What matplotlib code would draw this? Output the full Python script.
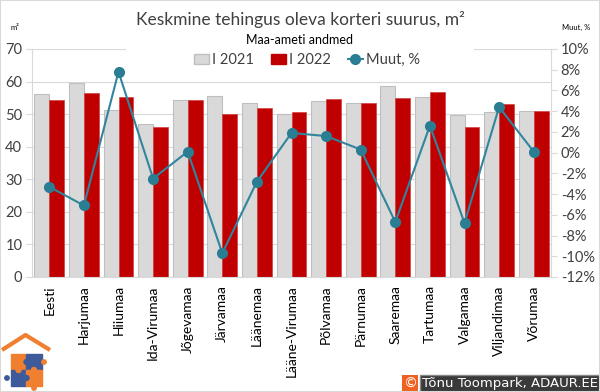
import matplotlib
matplotlib.use("Agg")
import matplotlib.pyplot as plt
import numpy as np
from matplotlib.patches import Patch, Rectangle
from matplotlib.lines import Line2D
from matplotlib.ticker import FuncFormatter

plt.rcParams['font.family'] = ['Lato', 'DejaVu Sans']

# Data
regions = ["Eesti", "Harjumaa", "Hiiumaa", "Ida-Virumaa", "Jõgevamaa", "Järvamaa",
           "Läänemaa", "Lääne-Virumaa", "Põlvamaa", "Pärnumaa", "Saaremaa",
           "Tartumaa", "Valgamaa", "Viljandimaa", "Võrumaa"]
size_2021 = [56.2, 59.6, 51.3, 47.1, 54.4, 55.6, 53.4, 50.0, 53.9, 53.5, 58.7, 55.4, 49.6, 50.7, 51.0]
size_2022 = [54.4, 56.6, 55.2, 46.0, 54.4, 50.1, 51.8, 50.8, 54.5, 53.5, 55.0, 56.7, 46.2, 53.0, 51.0]
change_pct = [-3.3, -5.1, 7.8, -2.5, 0.1, -9.7, -2.8, 1.9, 1.6, 0.3, -6.7, 2.6, -6.8, 4.4, 0.1]

GRAY = "#d9d9d9"
RED = "#c00000"
TEAL = "#31859c"
TXT = "#404040"

fig = plt.figure(figsize=(6.0, 3.92), dpi=100)
ax = fig.add_axes([32 / 600, 1 - 277 / 392, (551 - 32) / 600, (277 - 49) / 392])
x = np.arange(len(regions))
w = 0.43

# Bars
ax.bar(x, size_2021, width=-w, align="edge", color=GRAY, edgecolor="#bfbfbf", linewidth=0.8, zorder=2)
ax.bar(x, size_2022, width=w, align="edge", color=RED, edgecolor="#d04040", linewidth=0.5, zorder=2)
ax.set_xlim(-0.5, len(regions) - 0.5)
ax.set_ylim(0, 70)
ax.set_yticks(range(0, 71, 10))
ax.yaxis.grid(True, color=GRAY, linewidth=0.8)
ax.set_axisbelow(True)
ax.set_xticks(x)
ax.set_xticklabels(regions, rotation=90, fontsize=10, color="black")
ax.tick_params(axis="x", length=0, pad=6)
ax.tick_params(axis="y", length=4, color=GRAY, labelsize=10.5, labelcolor=TXT, pad=3)
for s in ["top", "right"]:
    ax.spines[s].set_visible(False)
ax.spines["left"].set_color(GRAY)
ax.spines["bottom"].set_color(GRAY)

# Change line on right axis
ax2 = ax.twinx()
ax2.plot(x, change_pct, color=TEAL, linewidth=1.5, marker="o", markersize=7,
         markerfacecolor="#2b7d94", markeredgecolor="#2b7d94", zorder=3)
ax2.set_ylim(-12, 10)
ax2.set_yticks(range(-12, 11, 2))
ax2.yaxis.set_major_formatter(FuncFormatter(lambda v, p: f"{v:.0f}%"))
ax2.tick_params(axis="y", length=4, color=GRAY, labelsize=10.5, labelcolor=TXT, pad=3)
for s in ["top", "left", "bottom"]:
    ax2.spines[s].set_visible(False)
ax2.spines["right"].set_color(GRAY)

# white backing behind subtitle and legend
fig.patches.append(Rectangle((126 / 600, 1 - 67 / 392), 348 / 600, 30 / 392,
                             transform=fig.transFigure, facecolor="white", edgecolor="none", zorder=5))

# Titles
fig.text(0.5, 1 - 19 / 392, "Keskmine tehingus oleva korteri suurus, m²", ha="center", va="center",
         fontsize=12.5, color=TXT, zorder=6)
fig.text(0.5, 1 - 40 / 392, "Maa-ameti andmed", ha="center", va="center", fontsize=9, color="black", zorder=6)
fig.text(15 / 600, 1 - 27 / 392, "m²", ha="center", va="center", fontsize=5.5, color="black")
fig.text(576 / 600, 1 - 27 / 392, "Muut, %", ha="center", va="center", fontsize=5.5, color="black")

# Legend
handles = [Patch(facecolor=GRAY, edgecolor="#bfbfbf"),
           Patch(facecolor=RED, edgecolor=RED),
           Line2D([], [], color=TEAL, marker="o", markersize=7, markerfacecolor="#2b7d94",
                  markeredgecolor="#2b7d94", linewidth=1.5)]
leg = fig.legend(handles, ["I 2021", "I 2022", "Muut, %"], loc="center", bbox_to_anchor=(307 / 600, 1 - 60 / 392),
                 ncol=3, frameon=False, fontsize=10.5, handlelength=1.0, handletextpad=0.2,
                 columnspacing=1.2, handleheight=0.65)
leg.set_zorder(7)
for t in leg.get_texts():
    t.set_color(TXT)

# logo
lax = fig.add_axes([0, 0, 55 / 600, 60 / 392])
lax.set_xlim(0, 55)
lax.set_ylim(0, 60)
lax.axis("off")
orange, blue = "#f08030", "#3f5a9a"
lax.plot([2, 25.5, 50], [42, 57, 42], color=orange, linewidth=3, solid_capstyle="butt")
lax.add_patch(Rectangle((11, 22), 15.5, 16, color=orange))
lax.add_patch(Rectangle((26.5, 22), 15.5, 16, color=blue))
lax.add_patch(Rectangle((11, 6), 15.5, 16, color=blue))
lax.add_patch(Rectangle((26.5, 6), 15.5, 16, color=orange))
lax.add_patch(plt.Circle((26.5, 30), 2.5, color=blue))
lax.add_patch(plt.Circle((18.5, 22), 2.5, color=orange))
lax.add_patch(plt.Circle((34, 22), 2.5, color=orange))
lax.add_patch(plt.Circle((26.5, 14), 2.5, color=blue))
lax.add_patch(plt.Circle((7, 14), 2.2, color=blue))
lax.add_patch(plt.Circle((44, 30), 2.2, color=orange))
lax.add_patch(plt.Circle((34, 4), 2.2, color=orange))

# copyright tag
fig.text(598 / 600, 8.5 / 392, "Tõnu Toompark, ADAUR.EE", ha="right", va="center", fontsize=9.5,
         color="white", family="DejaVu Sans", bbox=dict(facecolor="#3a3a3a", edgecolor="#888888",
                                                        boxstyle="square,pad=0.15"))
fig.text(410 / 600, 8.5 / 392, "©", ha="center", va="center", fontsize=10, color="white",
         family="DejaVu Sans", bbox=dict(facecolor="#f06020", edgecolor="none", boxstyle="square,pad=0.1"))

fig.patches.append(Rectangle((0, 0), 1, 1, transform=fig.transFigure, facecolor="none",
                             edgecolor="#d9d9d9", linewidth=1.5, zorder=10))

fig.savefig("out.png", dpi=100)
